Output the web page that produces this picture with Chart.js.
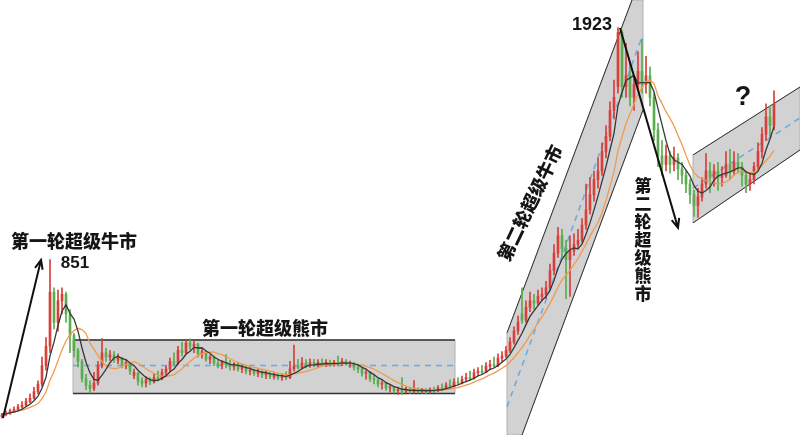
<!DOCTYPE html>
<html>
<head>
<meta charset="utf-8">
<script src="https://cdn.jsdelivr.net/npm/chart.js@4.4.0/dist/chart.umd.min.js"></script>
<style>
  html, body { margin: 0; padding: 0; background: #fff; }
  #wrap { width: 800px; height: 435px; }
</style>
</head>
<body>
<div id="wrap"><canvas id="chart"></canvas></div>
<script>
// one candle per slot: [open, high, low, close]
const candles = [
  [125,140,118,135],[135,150,128,140],[140,160,135,152],[152,170,145,158],[158,182,150,170],
  [170,195,165,178],[178,210,172,195],[195,230,188,210],[210,260,205,240],[240,290,230,275],
  [275,400,265,360],[360,490,340,450],[450,851,420,700],[700,720,530,560],[560,710,520,660],
  [660,720,600,690],[690,700,560,600],[600,620,420,500],[500,510,400,430],[430,440,355,380],
  [380,390,285,300],[300,320,250,270],[270,290,235,255],[255,330,245,280],[280,380,270,360],
  [360,485,350,420],[420,440,380,400],[400,430,385,410],[410,425,375,390],[385,415,370,400],
  [395,400,350,365],[360,385,345,375],[370,375,320,335],[315,345,300,330],[325,330,270,290],
  [290,305,262,280],[280,310,262,295],[295,305,272,285],[285,320,280,305],[305,335,290,300],
  [300,345,295,330],[330,360,315,345],[345,395,335,380],[380,420,360,370],[370,450,365,430],
  [430,468,405,420],[420,478,415,465],[465,484,435,450],[450,475,420,460],[460,465,400,415],
  [415,440,395,425],[425,430,380,390],[390,410,370,400],[400,405,360,372],[372,390,350,362],
  [362,385,345,375],[375,412,350,365],[365,385,340,358],[355,375,340,368],[368,372,335,345],
  [345,365,328,352],[352,358,322,335],[335,352,318,340],[340,345,315,325],[325,345,310,332],
  [332,338,305,318],[318,335,300,325],[325,330,300,310],[310,328,298,318],[318,322,296,305],
  [305,322,292,312],[312,332,296,305],[305,380,300,345],[345,455,335,358],[358,390,345,350],
  [350,398,345,372],[372,388,350,360],[360,392,352,375],[375,390,355,362],[362,388,352,374],
  [374,392,358,365],[365,388,356,376],[376,386,358,366],[366,385,358,374],[374,405,360,368],
  [368,394,360,380],[380,388,362,370],[370,382,352,372],[372,376,340,352],[352,365,328,345],
  [345,352,312,325],[325,340,298,330],[330,334,288,300],[300,315,276,295],[295,300,262,275],
  [275,290,252,280],[280,284,246,258],[258,272,238,262],[262,265,234,245],[245,260,228,250],
  [250,305,228,242],[242,262,236,252],[252,256,232,240],[240,292,234,250],[250,258,234,242],
  [242,256,232,250],[250,254,230,240],[240,258,234,248],[248,262,236,244],[244,268,240,258],
  [258,276,246,254],[254,282,250,270],[270,295,258,266],[266,300,262,285],[285,305,270,280],
  [280,312,276,298],[298,325,288,305],[305,335,292,300],[300,345,298,328],[328,352,315,335],
  [335,362,322,330],[330,375,328,358],[358,385,342,365],[365,400,352,360],[360,415,356,395],
  [395,425,380,405],[405,450,398,430],[430,490,420,470],[470,540,460,520],[520,590,505,560],
  [600,720,555,570],[570,660,560,630],[630,700,610,660],[660,690,620,650],[650,710,640,680],
  [680,720,660,690],[690,750,670,720],[720,830,710,800],[800,920,780,880],[880,1000,860,960],
  [960,990,860,900],[900,940,670,850],[850,960,680,890],[890,970,870,920],[920,990,900,940],
  [940,1040,930,1010],[1010,1200,990,1080],[1080,1230,1060,1150],[1150,1260,1120,1220],[1220,1320,1180,1260],
  [1260,1390,1240,1350],[1350,1470,1320,1420],[1420,1580,1400,1540],[1540,1680,1500,1600],[1650,1923,1620,1900],
  [1900,1910,1600,1650],[1650,1850,1600,1700],[1700,1760,1560,1600],[1600,1700,1540,1660],[1660,1810,1640,1720],
  [1720,1870,1620,1660],[1660,1790,1620,1700],[1700,1740,1560,1600],[1600,1620,1400,1450],[1450,1480,1280,1330],
  [1330,1400,1240,1290],[1290,1380,1260,1330],[1330,1350,1250,1290],[1290,1370,1260,1320],[1320,1340,1220,1270],
  [1270,1300,1200,1240],[1240,1260,1160,1200],[1200,1220,1110,1150],[1150,1170,1050,1100],[1100,1180,1045,1140],
  [1140,1230,1120,1200],[1200,1340,1180,1260],[1260,1300,1160,1230],[1230,1290,1190,1260],[1260,1300,1170,1230],
  [1230,1280,1190,1240],[1240,1350,1230,1290],[1290,1360,1220,1260],[1260,1350,1240,1300],[1300,1340,1250,1280],
  [1280,1300,1190,1240],[1240,1260,1160,1200],[1200,1250,1170,1220],[1220,1300,1200,1280],[1280,1390,1260,1350],
  [1350,1460,1320,1430],[1430,1570,1400,1510],[1510,1560,1420,1470],[1470,1630,1450,1570]
];
const slotCount = 200;
const labels = Array.from({ length: slotCount }, (_, i) => String(i));

// channels, in [slot, value]
const rangeBox = [[17.75, 479], [113.25, 479], [113.25, 232], [17.75, 232]];
const bullChannel = [[126.25, 512], [157.5, 2050], [160.25, 2050], [160.25, 1542], [130, 40], [126.25, 40]];
const bullEdges = [[[126.25, 512], [157.5, 2050]], [[160.25, 1542], [130, 40]]];
const riseChannel = [[172.75, 1334], [199.5, 1648], [199.5, 1357], [172.75, 1020]];
const riseEdges = [[[172.75, 1334], [199.5, 1648]], [[172.75, 1020], [199.5, 1357]]];
const midLines = [
  [[17.75, 361], [113.25, 361]],
  [[126.25, 170], [160, 1879]],
  [[172.75, 1181], [199.5, 1505]]
];
const arrows = [
  [[0.25, 119], [9.75, 849]],
  [[154.5, 1921], [169, 997]]
];
const notes = [
  { text: '第一轮超级牛市', at: [18, 937], size: 18 },
  { text: '851', at: [18.25, 835], size: 17, latin: true },
  { text: '第一轮超级熊市', at: [65.75, 535], size: 18 },
  { text: '1923', at: [147.5, 1934], size: 18, latin: true },
  { text: '第二轮超级牛市', at: [132, 1112], size: 18, angle: -64.5 },
  { text: '第二轮超级熊市', at: [160.25, 1191], size: 17, vertical: true },
  { text: '?', at: [185.25, 1597], size: 27, latin: true }
];

const RED = '#d63f3a';
const GREEN = '#58ad4c';

const closes = candles.map(c => c[3]);
function movingAverage(values, n) {
  return values.map((_, i) => {
    const part = values.slice(Math.max(0, i - n + 1), i + 1);
    return part.reduce((a, b) => a + b, 0) / part.length;
  });
}
const ma5 = movingAverage(closes, 5);
const ma10 = movingAverage(closes, 10);

const candleColor = ctx => {
  const c = candles[ctx.dataIndex];
  return c && c[3] >= c[0] ? RED : GREEN;
};

function drawArrow(ctx, x1, y1, x2, y2) {
  const a = Math.atan2(y2 - y1, x2 - x1), h = 10;
  ctx.beginPath();
  ctx.moveTo(x1, y1);
  ctx.lineTo(x2, y2);
  ctx.moveTo(x2 - h * Math.cos(a - 0.4), y2 - h * Math.sin(a - 0.4));
  ctx.lineTo(x2, y2);
  ctx.lineTo(x2 - h * Math.cos(a + 0.4), y2 - h * Math.sin(a + 0.4));
  ctx.stroke();
}

const overlay = {
  id: 'overlay',
  beforeDatasetsDraw(chart) {
    const { ctx, scales: { x, y } } = chart;
    const px = p => [x.getPixelForValue(p[0]), y.getPixelForValue(p[1])];
    const poly = pts => {
      ctx.beginPath();
      pts.forEach((p, i) => {
        const [a, b] = px(p);
        i ? ctx.lineTo(a, b) : ctx.moveTo(a, b);
      });
      ctx.closePath();
    };
    const seg = (s) => {
      const [a, b] = px(s[0]), [c, d] = px(s[1]);
      ctx.beginPath(); ctx.moveTo(a, b); ctx.lineTo(c, d); ctx.stroke();
    };
    ctx.save();
    ctx.fillStyle = '#d2d2d2';
    ctx.strokeStyle = '#b0b0b0';
    ctx.lineWidth = 1;
    [rangeBox, bullChannel, riseChannel].forEach(p => { poly(p); ctx.fill(); ctx.stroke(); });

    ctx.strokeStyle = '#333';
    ctx.lineWidth = 1.5;
    seg([rangeBox[0], rangeBox[1]]);
    seg([rangeBox[3], rangeBox[2]]);
    ctx.lineWidth = 1;
    bullEdges.concat(riseEdges).forEach(seg);

    ctx.strokeStyle = '#66aae6';
    ctx.lineWidth = 1.5;
    ctx.setLineDash([6, 5]);
    midLines.forEach(seg);
    ctx.restore();
  },
  afterDatasetsDraw(chart) {
    const { ctx, scales: { x, y } } = chart;
    const px = p => [x.getPixelForValue(p[0]), y.getPixelForValue(p[1])];
    ctx.save();
    ctx.strokeStyle = '#111';
    ctx.lineWidth = 2;
    arrows.forEach(a => {
      const [x1, y1] = px(a[0]), [x2, y2] = px(a[1]);
      drawArrow(ctx, x1, y1, x2, y2);
    });

    ctx.fillStyle = '#151515';
    ctx.textAlign = 'center';
    ctx.textBaseline = 'middle';
    notes.forEach(n => {
      const [cx, cy] = px(n.at);
      ctx.font = n.latin
        ? `bold ${n.size}px "Liberation Sans", Arial, sans-serif`
        : `900 ${n.size}px "Noto Sans CJK SC", sans-serif`;
      if (n.vertical) {
        [...n.text].forEach((ch, k) => ctx.fillText(ch, cx, cy + k * 18));
      } else if (n.angle) {
        ctx.save();
        ctx.translate(cx, cy);
        ctx.rotate(n.angle * Math.PI / 180);
        ctx.fillText(n.text, 0, 0);
        ctx.restore();
      } else {
        ctx.fillText(n.text, cx, cy);
      }
    });
    ctx.restore();
  }
};

new Chart(document.getElementById('chart'), {
  type: 'bar',
  data: {
    labels: labels,
    datasets: [
      {
        type: 'line', label: 'MA5', data: ma5,
        borderColor: '#383838', borderWidth: 1.3, pointRadius: 0, order: 0
      },
      {
        type: 'line', label: 'MA10', data: ma10,
        borderColor: '#f39a4a', borderWidth: 1.3, pointRadius: 0, order: 1
      },
      {
        label: 'body', data: candles.map(c => [Math.min(c[0], c[3]), Math.max(c[0], c[3])]),
        backgroundColor: candleColor, barThickness: 2, grouped: false, order: 2
      },
      {
        label: 'wick', data: candles.map(c => [c[2], c[1]]),
        backgroundColor: candleColor, barThickness: 1, grouped: false, order: 3
      }
    ]
  },
  options: {
    responsive: true,
    maintainAspectRatio: false,
    animation: false,
    layout: { padding: 0 },
    plugins: { legend: { display: false }, tooltip: { enabled: false } },
    scales: {
      x: { display: false },
      y: { display: false, min: 40, max: 2050 }
    }
  },
  plugins: [overlay]
});
</script>
</body>
</html>
